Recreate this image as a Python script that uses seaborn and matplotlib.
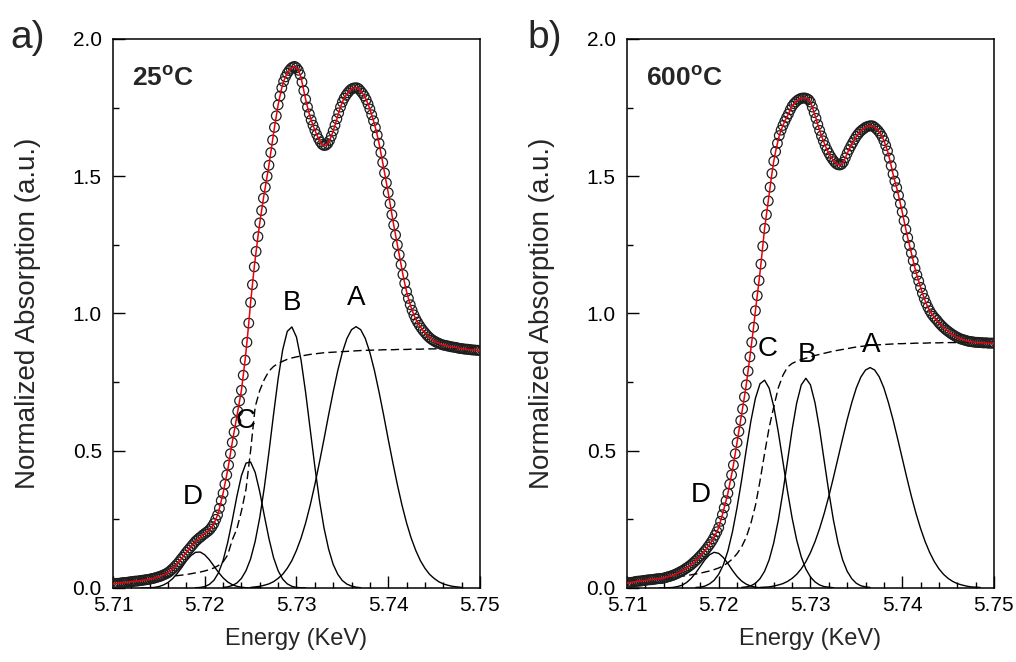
import numpy as np
import matplotlib
matplotlib.use('Agg')
import matplotlib.pyplot as plt
from matplotlib.ticker import MultipleLocator, FormatStrFormatter
import seaborn as sns

# Measured XANES spectra (circles), 5.7100 .. 5.7500 keV, one point every 0.0002 keV
SPEC_START = 5.7100
SPEC_STEP = 0.0002

spec_25 = [
    .015, .016, .017, .017, .018, .019, .020, .020, .021, .022,
    .023, .024, .025, .025, .026, .027, .028, .029, .030, .031,
    .032, .034, .035, .037, .039, .041, .043, .046, .049, .052,
    .056, .061, .067, .073, .080, .087, .095, .104, .112, .121,
    .130, .138, .146, .154, .162, .170, .176, .182, .187, .193,
    .198, .203, .208, .215, .224, .235, .250, .266, .290, .318,
    .345, .378, .412, .448, .489, .530, .568, .606, .644, .682,
    .720, .775, .830, .895, .965, 1.040, 1.105, 1.170, 1.226, 1.280,
    1.330, 1.375, 1.420, 1.460, 1.500, 1.540, 1.586, 1.632, 1.678, 1.720,
    1.760, 1.792, 1.822, 1.845, 1.862, 1.875, 1.885, 1.893, 1.898, 1.900,
    1.895, 1.886, 1.870, 1.843, 1.812, 1.780, 1.752, 1.727, 1.705, 1.686,
    1.668, 1.652, 1.637, 1.625, 1.616, 1.612, 1.613, 1.619, 1.630, 1.646,
    1.665, 1.686, 1.709, 1.731, 1.752, 1.770, 1.784, 1.795, 1.804, 1.812,
    1.818, 1.821, 1.822, 1.822, 1.818, 1.810, 1.802, 1.792, 1.779, 1.763,
    1.745, 1.724, 1.702, 1.677, 1.650, 1.620, 1.586, 1.550, 1.512, 1.476,
    1.440, 1.400, 1.360, 1.322, 1.286, 1.250, 1.214, 1.178, 1.142, 1.110,
    1.080, 1.055, 1.032, 1.012, .995, .980, .968, .957, .947, .938,
    .930, .922, .915, .909, .904, .900, .896, .893, .890, .887,
    .885, .884, .882, .881, .879, .878, .877, .876, .874, .873,
    .872, .871, .870, .870, .869, .868, .867, .867, .866, .866,
    .865,
]

spec_600 = [
    .018, .019, .020, .021, .022, .024, .025, .025, .026, .027,
    .028, .029, .030, .030, .031, .032, .033, .034, .034, .035,
    .036, .038, .040, .042, .044, .046, .049, .052, .055, .059,
    .062, .066, .071, .075, .080, .085, .091, .097, .103, .110,
    .117, .124, .132, .140, .149, .158, .168, .179, .192, .205,
    .220, .243, .267, .292, .318, .345, .378, .412, .448, .489,
    .530, .570, .610, .652, .696, .740, .790, .842, .895, .950,
    1.010, 1.065, 1.120, 1.180, 1.245, 1.310, 1.360, 1.410, 1.460, 1.510,
    1.555, 1.590, 1.620, 1.648, 1.668, 1.685, 1.700, 1.714, 1.727, 1.742,
    1.755, 1.764, 1.771, 1.777, 1.781, 1.784, 1.785, 1.785, 1.783, 1.779,
    1.770, 1.752, 1.732, 1.711, 1.688, 1.667, 1.647, 1.629, 1.612, 1.597,
    1.584, 1.572, 1.562, 1.553, 1.546, 1.542, 1.541, 1.544, 1.552, 1.567,
    1.583, 1.597, 1.610, 1.622, 1.634, 1.645, 1.654, 1.662, 1.668, 1.673,
    1.678, 1.681, 1.683, 1.684, 1.683, 1.678, 1.672, 1.665, 1.656, 1.645,
    1.630, 1.612, 1.592, 1.566, 1.538, 1.508, 1.482, 1.458, 1.430, 1.400,
    1.370, 1.338, 1.306, 1.276, 1.248, 1.220, 1.192, 1.164, 1.140, 1.118,
    1.095, 1.074, 1.055, 1.038, 1.023, 1.010, .999, .990, .982, .975,
    .966, .959, .952, .946, .940, .935, .930, .925, .921, .917,
    .913, .910, .907, .905, .903, .901, .899, .898, .897, .896,
    .895, .895, .894, .894, .893, .893, .893, .892, .892, .892,
    .892,
]

# Fitted components, one point every 0.0005 keV from the listed start energy
COMP_STEP = 0.0005

# arctan-like edge step (dashed), 5.7100 .. 5.7500
edge_25 = [
    .025, .026, .027, .028, .030, .031, .032, .033, .035, .036,
    .038, .039, .041, .043, .045, .047, .049, .052, .055, .058,
    .062, .067, .073, .082, .095, .120, .175, .215, .280, .360,
    .500, .660, .720, .760, .790, .807, .818, .826, .833, .838,
    .842, .845, .848, .851, .853, .855, .857, .858, .859, .860,
    .861, .862, .863, .864, .865, .866, .866, .867, .867, .868,
    .868, .868, .869, .869, .869, .870, .870, .870, .871, .871,
    .871, .872, .872, .872, .873, .873, .873, .874, .874, .874,
    .875,
]
edge_600 = [
    .025, .026, .027, .028, .030, .031, .032, .034, .036, .038,
    .039, .041, .043, .045, .048, .051, .054, .058, .062, .067,
    .073, .081, .092, .106, .125, .150, .185, .235, .300, .390,
    .490, .585, .660, .730, .775, .805, .818, .826, .832, .837,
    .842, .847, .851, .855, .859, .863, .866, .869, .872, .875,
    .878, .880, .882, .884, .885, .886, .887, .888, .889, .890,
    .890, .891, .891, .892, .892, .892, .893, .893, .893, .894,
    .894, .894, .894, .895, .895, .895, .895, .895, .896, .896,
    .896,
]

# Gaussian peaks D, C, B, A  (start energy, values)
peak_starts_25 = [5.7130, 5.7190, 5.7220, 5.7250]
peak_D_25 = [.000, .000, .001, .002, .005, .011, .020, .034, .053, .075, .099, .118, .130,
             .131, .121, .103, .080, .057, .037, .022, .012, .006, .003, .001, .000, .000, .000]
peak_C_25 = [.001, .002, .005, .013, .028, .055, .100, .165, .246, .333, .409, .455, .459,
             .421, .350, .263, .180, .111, .063, .032, .015, .006, .002, .001, .000]
peak_B_25 = [.002, .004, .009, .018, .035, .063, .106, .170, .257, .367, .495, .632, .762,
             .868, .935, .951, .914, .830, .712, .577, .443, .320, .219, .142, .086, .050,
             .027, .014, .007, .003, .001]
peak_A_25 = [.002, .004, .006, .010, .015, .023, .035, .050, .072, .100, .137, .182, .237,
             .302, .376, .457, .542, .630, .714, .792, .858, .909, .941, .952, .941, .909,
             .858, .792, .714, .630, .542, .457, .376, .302, .237, .182, .137, .100, .072,
             .050, .035, .023, .015, .010, .006, .004, .002]

peak_starts_600 = [5.7135, 5.7175, 5.7225, 5.7245]
peak_D_600 = [.000, .000, .001, .002, .005, .010, .020, .035, .055, .079, .103, .121, .130,
              .126, .111, .089, .064, .042, .025, .014, .007, .003, .001, .000]
peak_C_600 = [.002, .003, .007, .015, .028, .050, .084, .135, .205, .293, .394, .503, .607,
              .691, .744, .757, .728, .661, .567, .460, .352, .255, .174, .113, .069, .040,
              .022, .011, .005, .003, .001]
peak_B_600 = [.002, .004, .008, .017, .034, .061, .103, .165, .248, .350, .463, .577, .674,
              .740, .764, .740, .674, .577, .463, .350, .248, .165, .103, .061, .034, .017,
              .008, .004, .002]
peak_A_600 = [.002, .003, .004, .007, .011, .016, .024, .035, .050, .070, .096, .129, .169,
              .217, .272, .334, .402, .473, .544, .613, .675, .729, .769, .794, .803, .794,
              .769, .729, .675, .613, .544, .473, .402, .334, .272, .217, .169, .129, .096,
              .070, .050, .035, .024, .016, .011, .007, .004, .003, .002]

peak_names = ['D', 'C', 'B', 'A']
label_pos_25 = [(5.7187, 0.33), (5.7245, 0.61), (5.7295, 1.04), (5.7365, 1.055)]
label_pos_600 = [(5.7180, 0.34), (5.7253, 0.87), (5.7296, 0.85), (5.7366, 0.885)]


def energies(start, step, values):
    return start + step * np.arange(len(values))


sns.set_theme(style='ticks')
plt.rcParams['font.family'] = ['Liberation Sans', 'DejaVu Sans']
plt.rcParams['mathtext.fontset'] = 'custom'
plt.rcParams['mathtext.rm'] = 'Liberation Sans'
plt.rcParams['mathtext.bf'] = 'Liberation Sans:bold'


def draw_panel(ax, spec, edge, peaks, starts, label_pos, temp):
    # fitted Gaussian components
    for start, vals in zip(starts, peaks):
        sns.lineplot(x=energies(start, COMP_STEP, vals), y=vals, ax=ax,
                     color='black', linewidth=1.0, estimator=None, sort=False)
    # edge step
    sns.lineplot(x=energies(5.7100, COMP_STEP, edge), y=edge, ax=ax,
                 color='black', linewidth=1.0, linestyle=(0, (6, 3)),
                 estimator=None, sort=False)
    # measured data + total fit
    x = energies(SPEC_START, SPEC_STEP, spec)
    sns.scatterplot(x=x, y=spec, ax=ax, marker='o', s=48,
                    facecolor='none', edgecolor='#1e1e1e', linewidth=0.9, zorder=3)
    sns.lineplot(x=x, y=spec, ax=ax, color='#e8000b', linewidth=1.1,
                 estimator=None, sort=False, zorder=4)

    for name, (lx, ly) in zip(peak_names, label_pos):
        ax.text(lx, ly, name, fontsize=20, ha='center', va='center', color='black')

    ax.text(5.7121, 1.855, r'$\mathbf{' + temp + r'^{o}C}$', fontsize=19,
            ha='left', va='center')

    ax.set_xlim(5.71, 5.75)
    ax.set_ylim(0, 2.0)
    ax.xaxis.set_major_locator(MultipleLocator(0.01))
    ax.xaxis.set_minor_locator(MultipleLocator(0.002))
    ax.yaxis.set_major_locator(MultipleLocator(0.5))
    ax.yaxis.set_minor_locator(MultipleLocator(0.25))
    ax.xaxis.set_major_formatter(FormatStrFormatter('%.2f'))
    ax.yaxis.set_major_formatter(FormatStrFormatter('%.1f'))
    ax.tick_params(which='both', direction='in', top=False, right=False,
                   width=1.0, colors='black', labelsize=15)
    ax.tick_params(which='major', length=8.5)
    ax.tick_params(which='minor', length=4.5)
    ax.tick_params(axis='x', pad=6)
    ax.tick_params(axis='y', pad=8)
    for sp in ax.spines.values():
        sp.set_visible(True)
        sp.set_linewidth(1.1)
        sp.set_color('black')

    ax.set_xlabel('Energy (KeV)', fontsize=17)
    ax.set_ylabel('Normalized Absorption (a.u.)', fontsize=20)
    ax.xaxis.set_label_coords(0.5, -0.072)
    ax.yaxis.set_label_coords(-0.195, 0.5)


fig = plt.figure(figsize=(10.16, 6.62), dpi=100)
ax_a = fig.add_axes([0.1112, 0.1118, 0.3612, 0.8293])
ax_b = fig.add_axes([0.6171, 0.1118, 0.3612, 0.8293])

draw_panel(ax_a, spec_25, edge_25,
           [peak_D_25, peak_C_25, peak_B_25, peak_A_25], peak_starts_25,
           label_pos_25, '25')
draw_panel(ax_b, spec_600, edge_600,
           [peak_D_600, peak_C_600, peak_B_600, peak_A_600], peak_starts_600,
           label_pos_600, '600')

fig.text(0.010, 0.943, 'a)', fontsize=28, ha='left', va='center')
fig.text(0.519, 0.943, 'b)', fontsize=28, ha='left', va='center')

fig.savefig('out.png', dpi=100)
